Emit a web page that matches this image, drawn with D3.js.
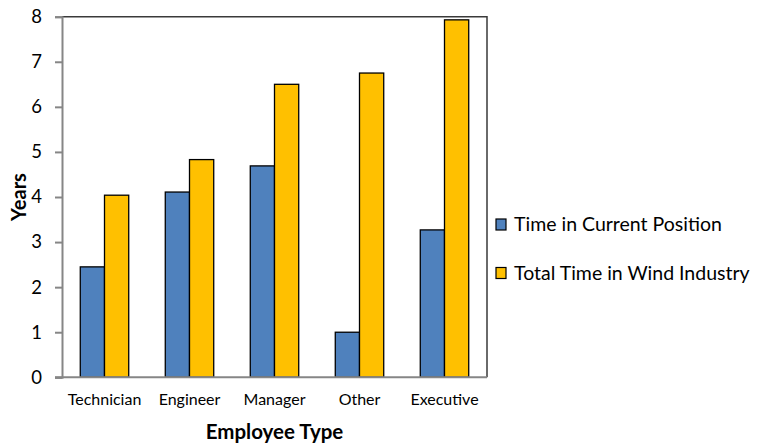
<!DOCTYPE html>
<html>
<head>
<meta charset="utf-8">
<script src="https://cdn.jsdelivr.net/npm/d3@7"></script>
<style>
  html, body { margin: 0; padding: 0; background: #fff; }
  svg { display: block; font-family: Lato, "Open Sans", sans-serif; }
</style>
</head>
<body>
<svg id="chart" width="763" height="443"></svg>
<script>
// Employee types and average years per group
const categories = ["Technician", "Engineer", "Manager", "Other", "Executive"];
const currentPosition = [2.45, 4.11, 4.69, 1.0, 3.27];
const windIndustry = [4.04, 4.83, 6.5, 6.75, 7.93];
const seriesNames = ["Time in Current Position", "Total Time in Wind Industry"];
const seriesColors = ["#4F81BD", "#FFC000"];
const yTicks = [0, 1, 2, 3, 4, 5, 6, 7, 8];

const svg = d3.select("#chart");
const plot = { left: 62, top: 16.7, right: 487, bottom: 377.3 };

const x0 = d3.scaleBand()
  .domain(categories)
  .range([plot.left, plot.right])
  .paddingInner(0.43)
  .paddingOuter(0.215);

const x1 = d3.scaleBand()
  .domain(d3.range(seriesNames.length))
  .range([0, x0.bandwidth()]);

const y = d3.scaleLinear().domain([0, 8]).range([plot.bottom, plot.top]);

// Frame: top and right edges
svg.append("path")
  .attr("d", `M${plot.left},${plot.top}H${plot.right}V${plot.bottom}`)
  .attr("fill", "none")
  .attr("stroke", "#3a3a3a")
  .attr("stroke-width", 1.5);

// Bars
const rows = categories.map((c, i) => ({ cat: c, values: [currentPosition[i], windIndustry[i]] }));
const groups = svg.append("g").selectAll("g")
  .data(rows)
  .join("g")
  .attr("transform", d => `translate(${x0(d.cat)},0)`);

groups.selectAll("rect")
  .data(d => d.values.map((v, s) => ({ v, s })))
  .join("rect")
  .attr("x", d => x1(d.s))
  .attr("width", x1.bandwidth())
  .attr("y", d => y(d.v))
  .attr("height", d => y(0) - y(d.v))
  .attr("fill", d => seriesColors[d.s])
  .attr("stroke", "#000")
  .attr("stroke-width", 1.3);

// Y axis
const yAxis = svg.append("g")
  .attr("transform", `translate(${plot.left},0)`)
  .call(d3.axisLeft(y).tickValues(yTicks).tickFormat(d3.format("d")).tickSize(7).tickPadding(13));
yAxis.select(".domain").attr("stroke", "#868686").attr("stroke-width", 2);
yAxis.selectAll(".tick line").attr("stroke", "#868686").attr("stroke-width", 2);
yAxis.selectAll(".tick text")
  .attr("font-size", 18.5)
  .attr("fill", "#000")
  .style("font-family", "Lato, sans-serif");

// X axis
const xAxis = svg.append("g")
  .attr("transform", `translate(0,${plot.bottom})`)
  .call(d3.axisBottom(x0).tickSize(0).tickPadding(16));
xAxis.select(".domain").attr("stroke", "#868686").attr("stroke-width", 2)
  .attr("d", `M${plot.left - 7},0H${plot.right}`);
xAxis.selectAll(".tick text")
  .attr("font-size", 16)
  .attr("fill", "#000")
  .style("font-family", "Lato, sans-serif");

// Axis titles
svg.append("text")
  .attr("x", (plot.left + plot.right) / 2)
  .attr("y", 439)
  .attr("text-anchor", "middle")
  .attr("font-size", 20.5)
  .attr("font-weight", "bold")
  .text("Employee Type");

svg.append("text")
  .attr("transform", `translate(26,${(plot.top + plot.bottom) / 2}) rotate(-90)`)
  .attr("text-anchor", "middle")
  .attr("font-size", 20)
  .attr("font-weight", "bold")
  .text("Years");

// Legend
const legend = svg.append("g").selectAll("g")
  .data(seriesNames)
  .join("g")
  .attr("transform", (d, i) => `translate(496,${219 + i * 48.5})`);
legend.append("rect")
  .attr("width", 10)
  .attr("height", 11)
  .attr("fill", (d, i) => seriesColors[i])
  .attr("stroke", "#000")
  .attr("stroke-width", 1.2);
legend.append("text")
  .attr("x", 18)
  .attr("y", 5.5)
  .attr("dy", "0.35em")
  .attr("font-size", 19.5)
  .attr("fill", "#000")
  .text(d => d);
</script>
</body>
</html>
